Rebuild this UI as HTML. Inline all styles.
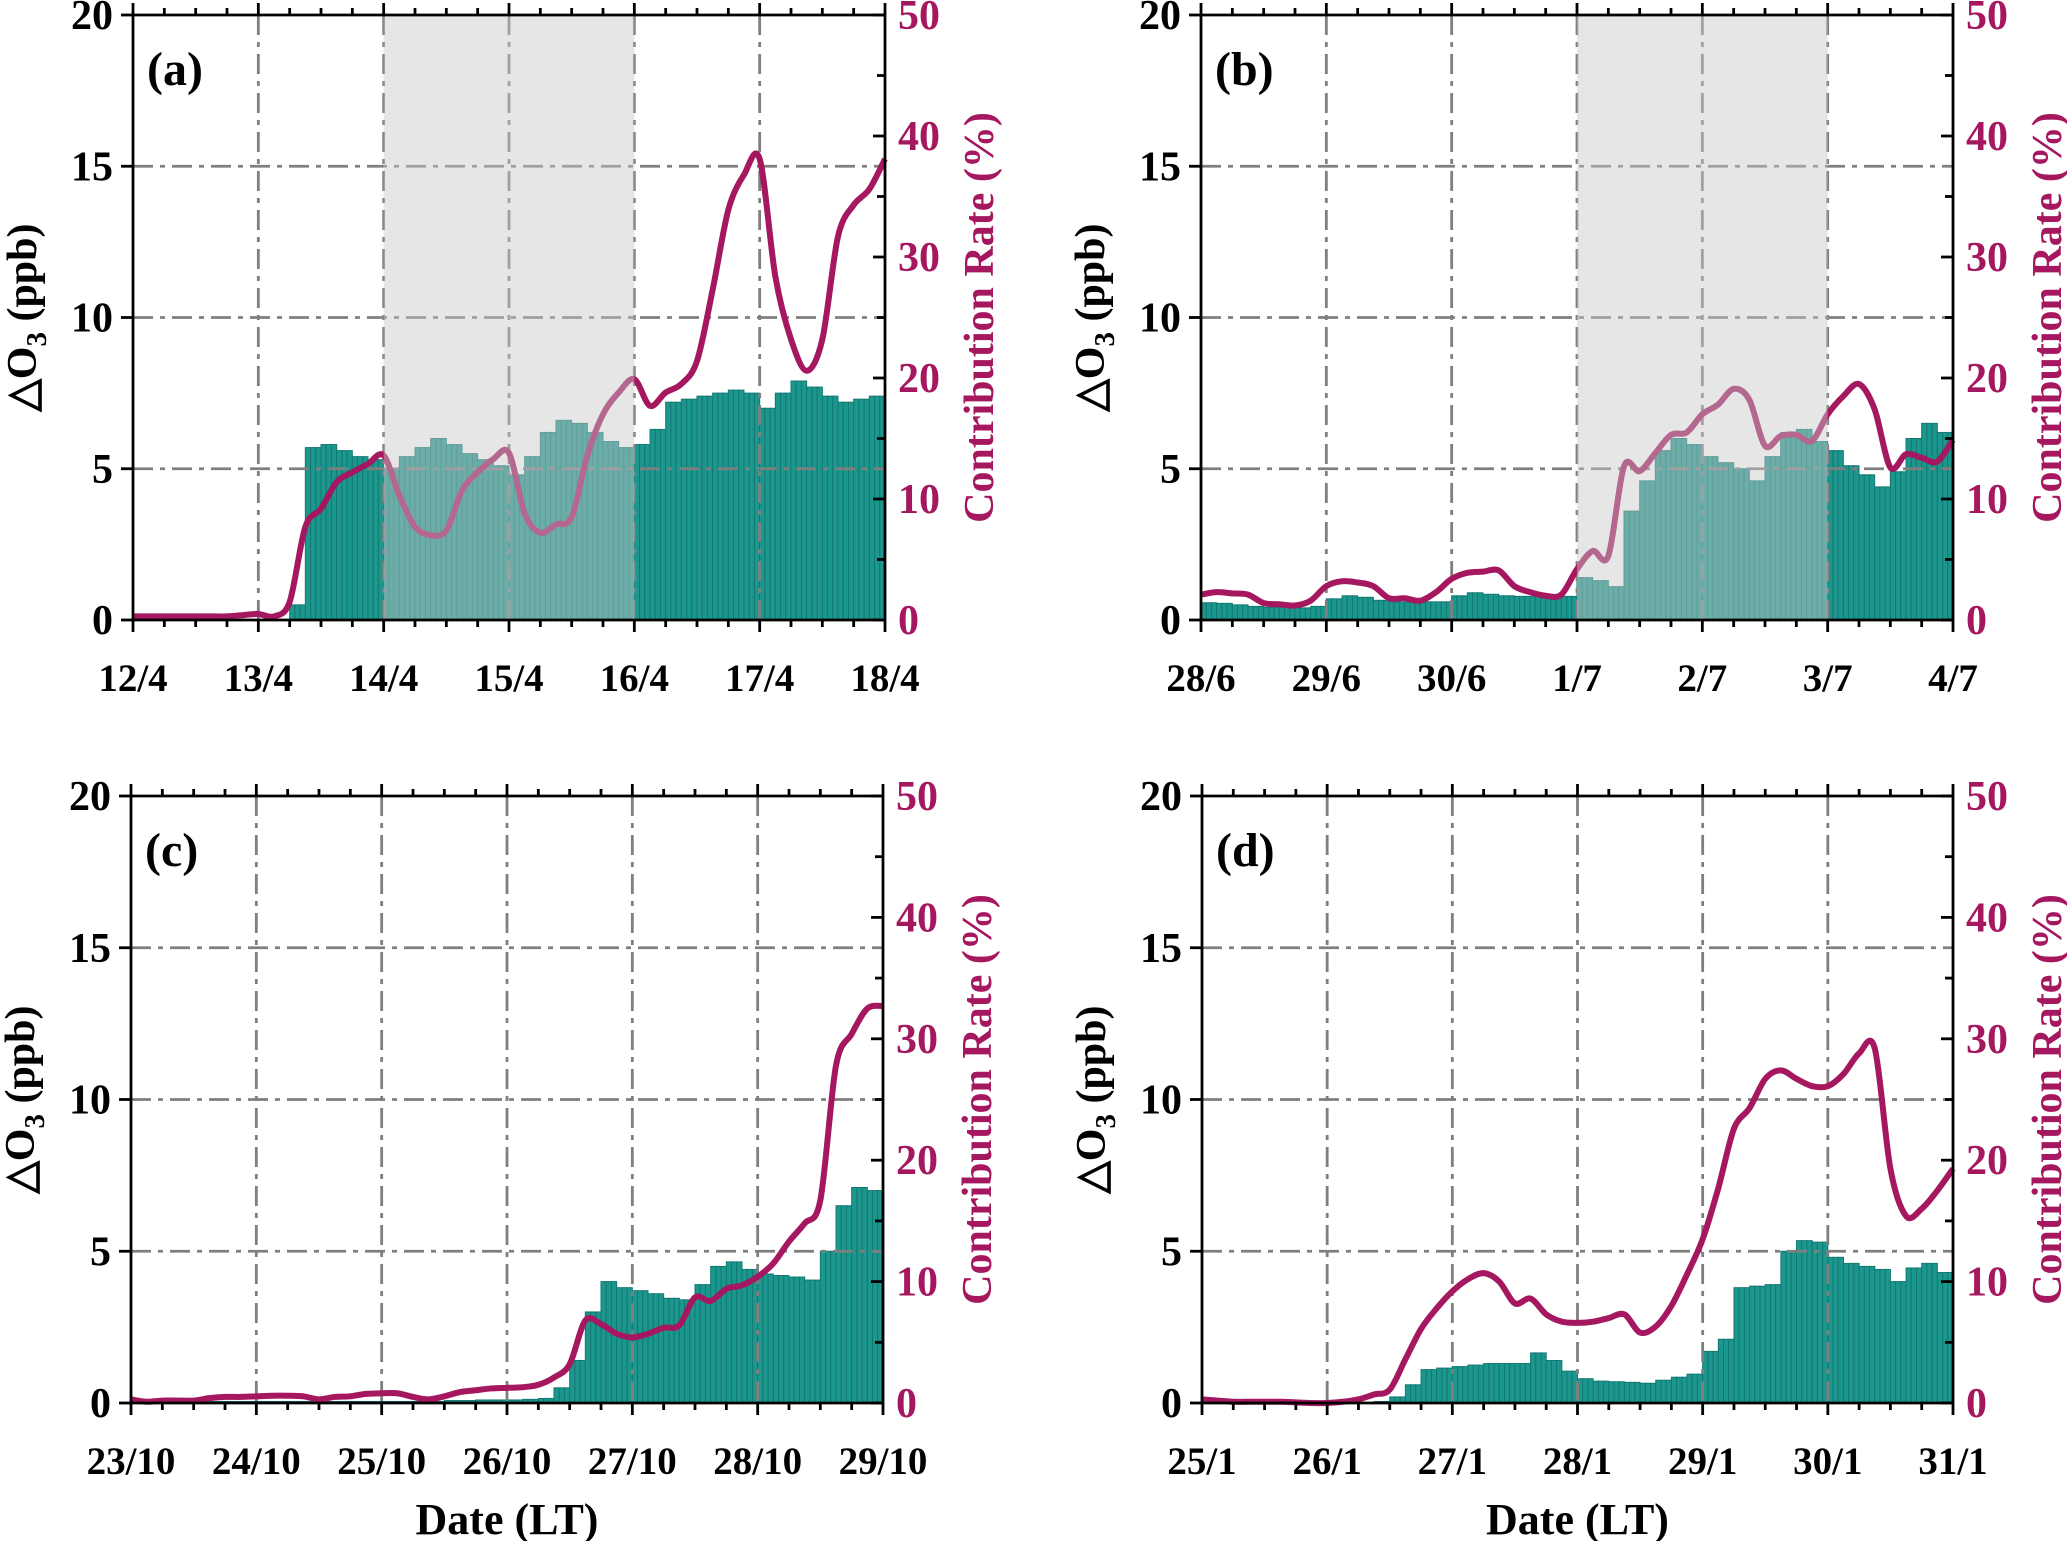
<!DOCTYPE html>
<html><head><meta charset="utf-8">
<style>
html,body{margin:0;padding:0;background:#fff;}
svg{display:block;font-family:"Liberation Serif",serif;font-weight:bold;}
</style></head>
<body>
<svg id="fig" width="2067" height="1541" viewBox="0 0 2067 1541" xmlns="http://www.w3.org/2000/svg"></svg>
<script>
// ---- data (3-hourly) ----
const labelsA = ["12/4","13/4","14/4","15/4","16/4","17/4","18/4"];
const labelsB = ["28/6","29/6","30/6","1/7","2/7","3/7","4/7"];
const labelsC = ["23/10","24/10","25/10","26/10","27/10","28/10","29/10"];
const labelsD = ["25/1","26/1","27/1","28/1","29/1","30/1","31/1"];
const leftTicks = [0,5,10,15,20];
const rightTicks = [0,10,20,30,40,50];

const barsA = [0,0,0,0,0,0,0,0, 0,0,0.5,5.7,5.8,5.6,5.4,5.3, 5.0,5.4,5.7,6.0,5.8,5.5,5.3,5.1, 4.8,5.4,6.2,6.6,6.5,6.2,5.9,5.7, 5.8,6.3,7.2,7.3,7.4,7.5,7.6,7.5, 7.0,7.5,7.9,7.7,7.4,7.2,7.3,7.4];
const rateA = [0.3,0.3,0.3,0.3,0.3,0.3,0.3,0.4, 0.5,0.3,1.5,7.7,9.2,11.4,12.2,12.9, 13.6,10.3,7.7,7.0,7.4,10.7,12.2,13.3, 13.8,8.8,7.2,7.9,8.5,13.6,17.0,18.8, 19.9,17.7,18.8,19.5,21.4,27.3,33.9,36.8, 38.1,28.4,23.2,20.6,23.2,31.7,34.3,35.6, 38.1];

const barsB = [0.57,0.55,0.5,0.45,0.42,0.42,0.4,0.45, 0.7,0.8,0.75,0.65,0.6,0.6,0.6,0.6, 0.8,0.9,0.85,0.8,0.78,0.78,0.78,0.78, 1.4,1.3,1.1,3.6,4.6,5.6,6.0,5.8, 5.4,5.2,5.0,4.6,5.4,6.2,6.3,5.9, 5.6,5.1,4.8,4.4,4.9,6.0,6.5,6.2];
const rateB = [2.1,2.3,2.2,2.1,1.4,1.3,1.2,1.6, 2.8,3.2,3.1,2.8,1.8,1.8,1.6,2.3, 3.4,3.9,4.0,4.1,2.8,2.3,2.0,2.1, 4.2,5.7,5.3,12.7,12.3,13.8,15.3,15.5, 17.0,17.8,19.1,18.2,14.4,15.2,15.3,14.8, 17.0,18.5,19.5,17.4,12.6,13.7,13.4,13.1, 14.9];

const barsC = [0.05,0.05,0.05,0.05,0.05,0.05,0.05,0.05, 0.05,0.05,0.05,0.05,0.05,0.05,0.05,0.05, 0.05,0.05,0.05,0.05,0.08,0.08,0.1,0.1, 0.1,0.12,0.15,0.5,1.4,3.0,4.0,3.8, 3.7,3.6,3.45,3.4,3.9,4.5,4.65,4.4, 4.25,4.2,4.15,4.05,5.0,6.5,7.1,7.0];
const rateC = [0.3,0.1,0.2,0.2,0.2,0.4,0.5,0.5, 0.55,0.6,0.6,0.55,0.3,0.5,0.55,0.75, 0.8,0.8,0.5,0.3,0.55,0.9,1.05,1.2, 1.25,1.3,1.5,2.1,3.2,6.8,6.5,5.7, 5.4,5.7,6.2,6.4,8.7,8.4,9.4,9.7, 10.4,11.5,13.3,14.8,16.7,27.8,30.4,32.5, 32.7];

const barsD = [0,0,0,0,0,0,0,0, 0,0,0.02,0.05,0.2,0.6,1.1,1.15, 1.2,1.25,1.3,1.3,1.3,1.65,1.4,1.05, 0.8,0.72,0.7,0.68,0.65,0.75,0.85,0.95, 1.7,2.1,3.8,3.85,3.9,5.0,5.35,5.3, 4.8,4.6,4.5,4.4,4.0,4.45,4.6,4.3];
const rateD = [0.3,0.2,0.1,0.1,0.1,0.1,0.05,0.0, 0.0,0.1,0.3,0.7,1.1,3.6,6.1,7.8, 9.2,10.2,10.7,10.0,8.2,8.6,7.3,6.7, 6.6,6.7,7.0,7.3,5.8,6.3,8.0,10.6, 13.5,17.7,22.6,24.3,26.7,27.4,26.7,26.1, 26.1,27.1,28.8,29.2,19.3,15.4,16.0,17.5, 19.3];

const NS = "http://www.w3.org/2000/svg";
const svg = document.getElementById('fig');
function mk(tag, attrs, parent){const e=document.createElementNS(NS,tag);for(const k in attrs)e.setAttribute(k,attrs[k]);(parent||svg).appendChild(e);return e;}

const panels = [
 {id:"a",x0:133,x1:885,top:15,bot:620,labels:labelsA,bars:barsA,rate:rateA,shade:[2,4],date:false},
 {id:"b",x0:1201,x1:1953,top:15,bot:620,labels:labelsB,bars:barsB,rate:rateB,shade:[3,5],date:false},
 {id:"c",x0:131,x1:883,top:796,bot:1403,labels:labelsC,bars:barsC,rate:rateC,shade:null,date:true},
 {id:"d",x0:1202,x1:1953,top:796,bot:1403,labels:labelsD,bars:barsD,rate:rateD,shade:null,date:true}
];
const MAG="#a5175f";
const DASH="20 7 5 7";

panels.forEach(p=>{
  const g=mk('g',{});
  
  
  const W=p.x1-p.x0, H=p.bot-p.top;
  const xs = d => p.x0 + d/6*W;
  const yL = v => p.bot - v/20*H;
  const yR = v => p.bot - v/50*H;
  const bg=mk('g',{},g);
  
  
  p.bars.forEach((v,i)=>{
    for(let h=0;h<3;h++){
      const d0=(i*3+h)/24, d1=(i*3+h+1)/24;
      const r=mk('rect',{x:xs(d0),y:yL(v),width:xs(d1)-xs(d0),height:p.bot-yL(v),fill:"#1b978e",stroke:"#137872","stroke-width":1},bg);
      
      
    }
  });
  [5,10,15].forEach(v=>{
    const l=mk('line',{x1:p.x0,x2:p.x1,y1:yL(v),y2:yL(v),stroke:"#7f7f7f","stroke-width":2.8,"stroke-dasharray":DASH},g);
    
    
  });
  for(let d=1;d<6;d++){
    const l=mk('line',{x1:xs(d),x2:xs(d),y1:p.top,y2:p.bot,stroke:"#7f7f7f","stroke-width":2.8,"stroke-dasharray":DASH},g);
    
    
  }
  const pts=p.rate.map((v,i)=>[xs(i/8),yR(v)]);
  let dstr="M"+pts[0][0]+","+pts[0][1];
  for(let i=0;i<pts.length-1;i++){
    const p0=pts[Math.max(0,i-1)],p1=pts[i],p2=pts[i+1],p3=pts[Math.min(pts.length-1,i+2)];
    const t=0.16;
    dstr+=` C${p1[0]+(p2[0]-p0[0])*t},${p1[1]+(p2[1]-p0[1])*t} ${p2[0]-(p3[0]-p1[0])*t},${p2[1]-(p3[1]-p1[1])*t} ${p2[0]},${p2[1]}`;
  }
  const ln=mk('path',{d:dstr,fill:"none",stroke:MAG,"stroke-width":6,"stroke-linejoin":"round"},g);
  
  
  if(p.shade){
    const s=mk('rect',{x:xs(p.shade[0]),y:p.top,width:xs(p.shade[1])-xs(p.shade[0]),height:H,fill:"rgb(200,200,200)","fill-opacity":0.46},g);
    
    
  }
  const ax=mk('g',{stroke:"#000","stroke-width":2.8},g);
  
  
  mk('line',{x1:p.x0,x2:p.x1,y1:p.bot,y2:p.bot},ax);
  mk('line',{x1:p.x0,x2:p.x1,y1:p.top,y2:p.top},ax);
  mk('line',{x1:p.x0,x2:p.x0,y1:p.top,y2:p.bot},ax);
  mk('line',{x1:p.x1,x2:p.x1,y1:p.top,y2:p.bot},ax);
  for(let q=0;q<=24;q++){
    const len=q%4===0?12:7;
    mk('line',{x1:xs(q/4),x2:xs(q/4),y1:p.bot,y2:p.bot+len},ax);
    mk('line',{x1:xs(q/4),x2:xs(q/4),y1:p.top,y2:p.top-len},ax);
  }
  leftTicks.forEach(v=>{
    mk('line',{x1:p.x0-12,x2:p.x0,y1:yL(v),y2:yL(v)},ax);
    const t=mk('text',{x:p.x0-20,y:yL(v)+14,"text-anchor":"end","font-size":42,fill:"#000"},g);
    t.textContent=v;
    
    
  });
  for(let v=0;v<=50;v+=5){
    const len=v%10===0?12:8;
    mk('line',{x1:p.x1-len,x2:p.x1,y1:yR(v),y2:yR(v)},ax);
  }
  rightTicks.forEach(v=>{
    const t=mk('text',{x:p.x1+13,y:yR(v)+14,"text-anchor":"start","font-size":42,fill:MAG},g);
    t.textContent=v;
    
    
  });
  p.labels.forEach((lab,i)=>{
    const t=mk('text',{x:xs(i),y:p.bot+71,"text-anchor":"middle","font-size":39,fill:"#000"},g);
    t.textContent=lab;
    
    
  });
  const my=(p.top+p.bot)/2;
  const lt=mk('text',{x:0,y:0,"text-anchor":"middle","font-size":42,fill:"#000",transform:`translate(${p.x0-97},${my}) rotate(-90)`},g);
  lt.innerHTML='△O<tspan font-size="29" dy="10">3</tspan><tspan dy="-10"> (ppb)</tspan>';
  
  
  const rt=mk('text',{x:0,y:0,"text-anchor":"middle","font-size":42,fill:MAG,transform:`translate(${p.x1+108},${my}) rotate(-90)`},g);
  rt.textContent="Contribution Rate (%)";
  
  
  const pl=mk('text',{x:p.x0+14,y:p.top+70,"font-size":48,fill:"#000"},g);
  pl.textContent="("+p.id+")";
  
  
  if(p.date){
    const dt=mk('text',{x:(p.x0+p.x1)/2,y:1534,"text-anchor":"middle","font-size":44,fill:"#000"},g);
    dt.textContent="Date (LT)";
    
    
  }
});
</script>
</body></html>
